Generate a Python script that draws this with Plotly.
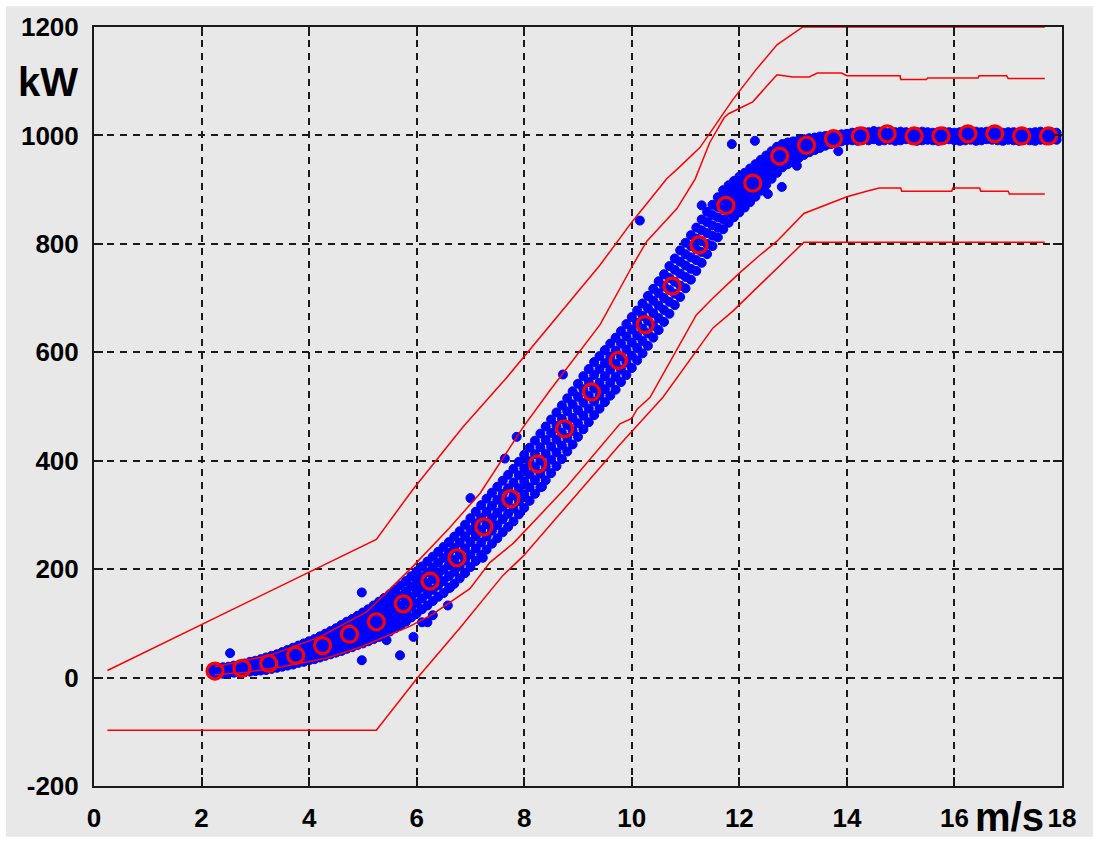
import plotly.graph_objects as go

# ---------------- data ----------------
x_ticks = [0, 2, 4, 6, 8, 10, 12, 14, 16, 18]
x_tick_text = ["0", "2", "4", "6", "8", "10", "12", "14", "16", "18"]
y_ticks = [-200, 0, 200, 400, 600, 800, 1000, 1200]
y_tick_text = ["-200", "0", "200", "400", "600", "800", "1000", "1200"]

# bin averages (red circles)
bin_x = [2.25, 2.75, 3.25, 3.75, 4.25, 4.75, 5.25, 5.75, 6.25, 6.75,
         7.25, 7.75, 8.25, 8.75, 9.25, 9.75, 10.25, 10.75, 11.25, 11.75,
         12.25, 12.75, 13.25, 13.75, 14.25, 14.75, 15.25, 15.75, 16.25, 16.75,
         17.25, 17.75]
bin_y = [12, 17, 26, 41, 59, 80, 103, 136, 178, 221,
         278, 330, 394, 459, 527, 585, 651, 722, 798, 871,
         912, 962, 982, 994, 999, 1003, 999, 999, 1003, 1003,
         999, 999]

# measured 10-min points (blue cloud), read as band columns
cloud_x = [2.2, 2.3, 2.4, 2.5, 2.6, 2.7, 2.8, 2.9, 3.0, 3.1,
           3.2, 3.3, 3.4, 3.5, 3.6, 3.7, 3.8, 3.9, 4.0, 4.1,
           4.2, 4.3, 4.4, 4.5, 4.6, 4.7, 4.8, 4.9, 5.0, 5.1,
           5.2, 5.3, 5.4, 5.5, 5.6, 5.7, 5.8, 5.9, 6.0, 6.1,
           6.2, 6.3, 6.4, 6.5, 6.6, 6.7, 6.8, 6.9, 7.0, 7.1,
           7.2, 7.3, 7.4, 7.5, 7.6, 7.7, 7.8, 7.9, 8.0, 8.1,
           8.2, 8.3, 8.4, 8.5, 8.6, 8.7, 8.8, 8.9, 9.0, 9.1,
           9.2, 9.3, 9.4, 9.5, 9.6, 9.7, 9.8, 9.9, 10.0, 10.1,
           10.2, 10.3, 10.4, 10.5, 10.6, 10.7, 10.8, 10.9, 11.0, 11.1,
           11.2, 11.3, 11.4, 11.5, 11.6, 11.7, 11.8, 11.9, 12.0, 12.1,
           12.2, 12.3, 12.4, 12.5, 12.6, 12.7, 12.8, 12.9, 13.0, 13.1,
           13.2, 13.3, 13.4, 13.5, 13.6, 13.7, 13.8, 13.9, 14.0]
cloud_lo = [6, 6, 7, 8, 9, 9, 10, 11, 12, 13,
            14, 16, 18, 20, 22, 24, 27, 29, 32, 34,
            37, 40, 43, 46, 49, 53, 56, 60, 63, 67,
            71, 75, 80, 85, 91, 96, 103, 111, 118, 126,
            133, 141, 149, 156, 165, 173, 183, 193, 204, 215,
            226, 236, 247, 257, 268, 278, 288, 301, 313, 326,
            339, 351, 364, 377, 390, 403, 417, 430, 444, 458,
            471, 484, 496, 508, 520, 531, 545, 558, 571, 585,
            598, 612, 627, 641, 656, 671, 687, 702, 718, 734,
            750, 765, 781, 796, 812, 827, 839, 849, 858, 867,
            877, 887, 898, 909, 920, 931, 941, 947, 953, 958,
            964, 969, 973, 977, 981, 984, 987, 989, 991]
cloud_q1 = [9, 9, 10, 11, 12, 13, 14, 16, 17, 18,
            20, 22, 24, 27, 29, 32, 35, 38, 41, 44,
            47, 51, 54, 58, 61, 65, 69, 73, 77, 81,
            86, 90, 96, 102, 108, 114, 121, 130, 137, 146,
            154, 162, 170, 178, 187, 195, 205, 216, 227, 238,
            249, 260, 271, 281, 292, 302, 312, 325, 338, 351,
            364, 376, 389, 402, 415, 428, 442, 455, 469, 483,
            496, 509, 520, 532, 544, 555, 568, 581, 594, 608,
            621, 635, 649, 663, 678, 693, 708, 723, 739, 754,
            770, 785, 800, 815, 830, 845, 857, 866, 874, 883,
            892, 902, 912, 923, 933, 944, 952, 957, 962, 967,
            972, 976, 980, 983, 986, 988, 991, 993, 994]
cloud_mid = [11, 12, 13, 14, 15, 16, 18, 20, 21, 23,
             25, 27, 30, 33, 36, 39, 43, 46, 50, 53,
             57, 61, 65, 69, 73, 78, 82, 87, 91, 96,
             101, 106, 113, 119, 126, 132, 140, 149, 157, 166,
             174, 182, 191, 199, 208, 217, 227, 238, 250, 261,
             272, 283, 294, 304, 315, 325, 336, 349, 362, 375,
             388, 400, 413, 426, 439, 452, 466, 479, 493, 507,
             520, 533, 544, 556, 568, 579, 592, 605, 618, 631,
             644, 658, 672, 686, 700, 715, 730, 745, 760, 775,
             790, 805, 820, 834, 849, 864, 875, 883, 891, 899,
             908, 917, 927, 937, 947, 957, 964, 968, 972, 976,
             980, 983, 986, 988, 991, 993, 995, 996, 997]
cloud_q3 = [13, 14, 15, 16, 18, 19, 21, 24, 26, 28,
            30, 33, 36, 39, 43, 46, 50, 54, 58, 62,
            66, 71, 75, 80, 85, 90, 95, 100, 105, 111,
            117, 123, 130, 137, 144, 151, 159, 168, 177, 186,
            194, 203, 212, 221, 230, 239, 249, 260, 272, 284,
            295, 306, 317, 328, 339, 349, 360, 373, 386, 399,
            412, 425, 438, 451, 464, 477, 491, 504, 518, 532,
            545, 558, 569, 580, 592, 603, 616, 629, 642, 654,
            667, 681, 695, 709, 722, 737, 752, 767, 781, 796,
            810, 825, 840, 853, 868, 882, 892, 900, 908, 915,
            923, 932, 941, 950, 959, 968, 974, 978, 981, 984,
            987, 989, 991, 993, 995, 996, 998, 999, 1000]
cloud_hi = [16, 18, 19, 20, 22, 23, 26, 29, 31, 34,
            37, 40, 43, 47, 51, 55, 59, 63, 67, 71,
            76, 81, 86, 91, 97, 103, 108, 114, 120, 126,
            133, 140, 147, 154, 162, 170, 178, 187, 196, 205,
            214, 223, 232, 241, 250, 260, 270, 282, 294, 306,
            318, 330, 341, 352, 363, 374, 385, 398, 411, 424,
            437, 450, 463, 476, 489, 502, 515, 528, 542, 556,
            569, 582, 593, 604, 616, 627, 639, 652, 665, 677,
            690, 704, 717, 731, 744, 759, 773, 788, 802, 816,
            830, 845, 859, 872, 886, 899, 908, 916, 924, 931,
            939, 947, 955, 963, 971, 979, 984, 987, 989, 991,
            993, 995, 996, 998, 999, 1000, 1001, 1002, 1003]

flat_x = [14.1, 14.2, 14.3, 14.4, 14.5, 14.6, 14.7, 14.8, 14.9, 15.0,
          15.1, 15.2, 15.3, 15.4, 15.5, 15.6, 15.7, 15.8, 15.9, 16.0,
          16.1, 16.2, 16.3, 16.4, 16.5, 16.6, 16.7, 16.8, 16.9, 17.0,
          17.1, 17.2, 17.3, 17.4, 17.5, 17.6, 17.7, 17.8, 17.9]
flat_lo = [991, 990, 992, 991, 993, 990, 991, 992, 990, 991,
           993, 992, 990, 991, 992, 991, 990, 992, 993, 991,
           990, 991, 992, 990, 991, 993, 992, 991, 990, 992,
           991, 990, 992, 991, 990, 992, 991, 993, 992]
flat_mid = [998, 999, 1000, 999, 1001, 1000, 999, 998, 999, 1000,
            1000, 999, 998, 999, 1000, 999, 1000, 1001, 999, 998,
            999, 1000, 1001, 1000, 999, 1000, 1001, 999, 998, 999,
            1000, 999, 998, 999, 1000, 1001, 999, 1000, 999]
flat_hi = [1005, 1006, 1007, 1006, 1008, 1007, 1006, 1005, 1006, 1007,
           1006, 1005, 1006, 1007, 1006, 1005, 1006, 1007, 1006, 1005,
           1006, 1007, 1008, 1007, 1006, 1007, 1008, 1006, 1005, 1006,
           1006, 1005, 1004, 1005, 1006, 1007, 1005, 1006, 1005]

out_x = [2.53, 4.98, 4.98, 5.44, 5.69, 5.94, 6.1, 6.2, 6.3, 6.58,
         6.62, 6.9, 7.0, 7.23, 7.64, 7.86, 8.33, 8.72, 10.15, 11.3,
         11.86, 12.29, 12.53, 12.79, 13.07, 13.84]
out_y = [45, 157, 32, 69, 41, 75, 102, 102, 115, 133,
         166, 193, 331, 221, 404, 444, 352, 559, 843, 871,
         984, 990, 892, 905, 944, 971]

# envelope curves (red lines)
outer_upper_x = [0.25, 5.25, 5.93, 6.86, 7.68, 8.29, 9.41, 10.0, 10.65, 10.9,
                 11.27, 11.88, 12.3, 12.7, 13.18, 17.68]
outer_upper_y = [13, 255, 347, 462, 554, 627, 761, 840, 920, 943,
                 978, 1066, 1120, 1167, 1200, 1200]

inner_upper_x = [2.25, 3.27, 4.2, 5.07, 5.94, 6.6, 7.18, 7.98, 8.48, 9.41,
                 10.02, 10.28, 10.84, 11.18, 11.45, 11.72, 11.8, 12.25, 12.7, 13.0,
                 13.3, 13.45, 13.9, 14.0, 14.99, 15.0, 15.48, 15.5, 16.44, 16.46,
                 16.97, 17.0, 17.68]
inner_upper_y = [20, 41, 75, 121, 206, 275, 340, 462, 530, 651,
                 761, 805, 865, 920, 987, 1033, 1040, 1062, 1112, 1108,
                 1108, 1115, 1115, 1110, 1110, 1103, 1103, 1106, 1106, 1110,
                 1110, 1105, 1105]

inner_lower_x = [2.25, 2.84, 3.5, 4.33, 4.95, 5.88, 6.3, 6.99, 7.36, 7.8,
                 8.79, 9.78, 10.0, 10.1, 10.34, 11.2, 11.51, 12.01, 12.38, 12.7,
                 13.2, 14.0, 14.4, 14.6, 15.0, 15.02, 15.95, 15.97, 16.47, 16.49,
                 17.0, 17.02, 17.68]
inner_lower_y = [5, 10, 20, 36, 56, 95, 117, 164, 212, 248,
                 352, 468, 478, 495, 517, 669, 700, 747, 779, 805,
                 856, 887, 898, 903, 903, 897, 897, 903, 903, 897,
                 897, 892, 892]

outer_lower_x = [0.25, 5.25, 6.02, 6.8, 7.6, 7.98, 9.04, 9.78, 10.58, 11.51,
                 11.88, 12.38, 12.7, 13.2, 17.68]
outer_lower_y = [-97, -97, 0, 91, 188, 224, 345, 430, 517, 645,
                 676, 724, 755, 803, 803]

# ---------------- figure ----------------
pts_x = (cloud_x * 5) + (flat_x * 3) + out_x
pts_y = cloud_lo + cloud_q1 + cloud_mid + cloud_q3 + cloud_hi + flat_lo + flat_mid + flat_hi + out_y

fig = go.Figure()
fig.add_trace(go.Scatter(x=pts_x, y=pts_y, mode="markers",
                         marker=dict(color="#0000ff", size=9,
                                     line=dict(width=1, color="#0000ff")),
                         hoverinfo="skip"))

for lx, ly in [(outer_upper_x, outer_upper_y), (inner_upper_x, inner_upper_y),
               (inner_lower_x, inner_lower_y), (outer_lower_x, outer_lower_y)]:
    fig.add_trace(go.Scatter(x=lx, y=ly, mode="lines",
                             line=dict(color="#ff0000", width=1.5),
                             hoverinfo="skip"))

fig.add_trace(go.Scatter(x=bin_x, y=bin_y, mode="markers",
                         marker=dict(symbol="circle-open", size=16, color="#ff0000",
                                     line=dict(width=3.2, color="#ff0000")),
                         hoverinfo="skip"))

axis_common = dict(
    showgrid=True, gridcolor="#1a1a1a", gridwidth=2, griddash="7px,6px",
    showline=True, linecolor="#1a1a1a", linewidth=2, mirror="ticks",
    ticks="inside", ticklen=9, tickwidth=2, tickcolor="#1a1a1a",
    tickfont=dict(family="Liberation Sans", size=26, color="black", weight="bold"),
    zeroline=False,
)

fig.update_layout(
    width=1093, height=845, autosize=False,
    margin=dict(l=94, r=31, t=27, b=53),
    paper_bgcolor="white", plot_bgcolor="#e8e8e8",
    showlegend=False,
    xaxis=dict(range=[0, 18], tickvals=x_ticks, ticktext=x_tick_text,
               ticklabelstandoff=8, **axis_common),
    yaxis=dict(range=[-200, 1200], tickvals=y_ticks, ticktext=y_tick_text,
               ticklabelstandoff=8, **axis_common),
    shapes=[dict(type="rect", xref="paper", yref="paper",
                 x0=-0.0909, x1=1.04, y0=-0.0667, y1=1.0275,
                 fillcolor="#e8e8e8", line=dict(width=0), layer="below")],
    annotations=[
        dict(text="kW", xref="paper", yref="paper", x=-0.048, y=0.927,
             xanchor="center", yanchor="middle", showarrow=False,
             font=dict(family="Liberation Sans", size=40, color="black", weight="bold")),
        dict(text="m/s", xref="paper", yref="paper", x=0.946, y=-0.0405,
             xanchor="center", yanchor="middle", showarrow=False,
             font=dict(family="Liberation Sans", size=40, color="black", weight="bold")),
    ],
)

fig.write_html("out.html")
